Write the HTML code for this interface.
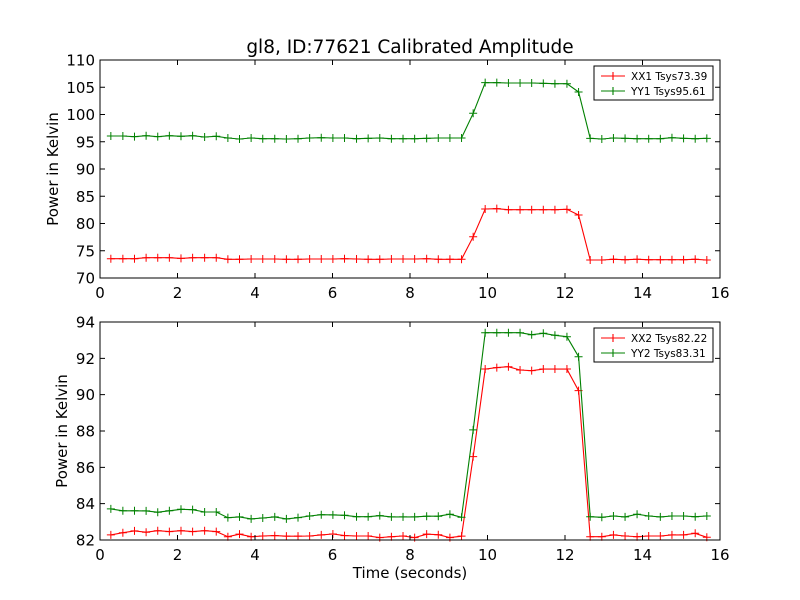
<!DOCTYPE html>
<html><head><meta charset="utf-8"><style>
body{margin:0;background:#fff;}
svg{display:block;font-family:"DejaVu Sans","Liberation Sans",sans-serif;}
</style></head><body>
<svg id="chart" width="800" height="600" viewBox="0 0 800 600" xmlns="http://www.w3.org/2000/svg">
<rect x="0" y="0" width="800" height="600" fill="#fff"/>
<text x="410" y="53" font-size="18.5" text-anchor="middle">gl8, ID:77621 Calibrated Amplitude</text>
<text x="410" y="578" font-size="15" text-anchor="middle">Time (seconds)</text>
</svg>
<script>
const times = [0.28,0.59,0.89,1.19,1.49,1.79,2.09,2.39,2.70,3.00,3.30,3.60,3.90,4.20,4.51,4.81,5.11,5.41,5.71,6.01,6.31,6.62,6.92,7.22,7.52,7.82,8.12,8.43,8.73,9.03,9.33,9.63,9.94,10.24,10.54,10.84,11.14,11.44,11.74,12.05,12.35,12.65,12.95,13.25,13.55,13.86,14.16,14.46,14.76,15.06,15.36,15.66];
const xx1 = [73.54,73.54,73.54,73.72,73.72,73.72,73.6,73.72,73.72,73.72,73.43,73.43,73.49,73.49,73.49,73.43,73.43,73.49,73.49,73.49,73.54,73.49,73.43,73.43,73.49,73.49,73.49,73.54,73.43,73.43,73.43,77.58,82.66,82.72,82.53,82.53,82.53,82.53,82.53,82.6,81.56,73.3,73.3,73.43,73.36,73.43,73.36,73.36,73.36,73.36,73.43,73.3];
const yy1 = [96.06,96.06,95.93,96.11,95.93,96.11,96.0,96.11,95.87,96.0,95.69,95.5,95.69,95.56,95.56,95.5,95.56,95.69,95.74,95.69,95.69,95.56,95.63,95.69,95.56,95.56,95.56,95.63,95.69,95.69,95.69,100.22,105.84,105.84,105.78,105.78,105.78,105.72,105.65,105.65,104.13,95.63,95.5,95.69,95.63,95.56,95.56,95.56,95.74,95.63,95.56,95.63];
const xx2 = [82.28,82.40,82.50,82.43,82.51,82.46,82.51,82.46,82.51,82.46,82.18,82.32,82.18,82.22,82.24,82.21,82.21,82.22,82.28,82.33,82.24,82.22,82.22,82.13,82.18,82.22,82.13,82.32,82.29,82.13,82.21,86.59,91.41,91.49,91.54,91.36,91.32,91.41,91.41,91.41,90.22,82.18,82.18,82.28,82.22,82.18,82.22,82.22,82.28,82.28,82.37,82.15];
const yy2 = [83.71,83.61,83.61,83.60,83.53,83.61,83.69,83.67,83.54,83.54,83.23,83.27,83.16,83.21,83.27,83.16,83.23,83.32,83.39,83.38,83.36,83.28,83.28,83.34,83.27,83.27,83.27,83.31,83.31,83.42,83.25,88.06,93.41,93.41,93.41,93.41,93.30,93.38,93.27,93.19,92.09,83.28,83.25,83.32,83.27,83.42,83.32,83.27,83.32,83.32,83.28,83.32];
const xTicks = [0,2,4,6,8,10,12,14,16];
const yTicks1 = [70,75,80,85,90,95,100,105,110];
const yTicks2 = [82,84,86,88,90,92,94];
const legend1 = ["XX1 Tsys73.39","YY1 Tsys95.61"];
const legend2 = ["XX2 Tsys82.22","YY2 Tsys83.31"];

const NS="http://www.w3.org/2000/svg";
const svg=document.getElementById('chart');
function mk(tag,attrs,parent){const e=document.createElementNS(NS,tag);for(const k in attrs)e.setAttribute(k,attrs[k]);(parent||svg).appendChild(e);return e;}

function panel(id,top,bottom,ymin,ymax,yTicks,series,legend,ylabX){
  const L=100,R=720;
  const g=mk('g',{});
  
  
  const xs=t=>L+(t-0)/(16-0)*(R-L);
  const ys=v=>bottom-(v-ymin)/(ymax-ymin)*(bottom-top);
  // series
  series.forEach((s,si)=>{
    const sg=mk('g',{},g);
    
    
    const pts=s.vals.map((v,i)=>xs(times[i]).toFixed(1)+','+ys(v).toFixed(1)).join(' ');
    const pl=mk('polyline',{points:pts,fill:'none',stroke:s.color,'stroke-width':1.1},sg);
    
    
    s.vals.forEach((v,i)=>{
      const x=xs(times[i]),y=ys(v);
      const m=mk('path',{d:`M${x-4},${y}H${x+4}M${x},${y-4}V${y+4}`,stroke:s.color,'stroke-width':1},sg);
      
      
    });
  });
  // frame
  const fr=mk('rect',{x:L,y:top,width:R-L,height:bottom-top,fill:'none',stroke:'#000','stroke-width':1},g);
  
  
  // x ticks
  xTicks.forEach(t=>{
    const x=xs(t);
    mk('path',{d:`M${x},${bottom}v-5M${x},${top}v5`,stroke:'#000'},g);
    const tx=mk('text',{x:x,y:bottom+20,'font-size':15,'text-anchor':'middle'},g);
    
    
    tx.textContent=t;
  });
  yTicks.forEach(v=>{
    const y=ys(v);
    mk('path',{d:`M${L},${y}h5M${R},${y}h-5`,stroke:'#000'},g);
    const tx=mk('text',{x:L-5,y:y+5.5,'font-size':15,'text-anchor':'end'},g);
    
    
    tx.textContent=v;
  });
  const yl=mk('text',{x:ylabX,y:(top+bottom)/2,'font-size':15,'text-anchor':'middle',transform:`rotate(-90 ${ylabX} ${(top+bottom)/2})`},g);
  
  
  yl.textContent='Power in Kelvin';
  // legend
  const lx=R-126,ly=top+6,lw=119,lh=34;
  const lg=mk('g',{},g);
  
  
  mk('rect',{x:lx,y:ly,width:lw,height:lh,fill:'#fff',stroke:'#000','stroke-width':1},lg);
  series.forEach((s,si)=>{
    const yy=ly+10+si*15;
    const e=mk('g',{},lg);
    
    
    mk('path',{d:`M${lx+7},${yy}h24M${lx+19},${yy-4}v8`,stroke:s.color,'stroke-width':1.1},e);
    const t=mk('text',{x:lx+37,y:yy+4,'font-size':10.5},e);
    t.textContent=legend[si];
  });
}
panel('top',60,278,70,110,yTicks1,[{name:'xx1',vals:xx1,color:'#ff0000'},{name:'yy1',vals:yy1,color:'#008000'}],legend1,58);
panel('bottom',322,540,82,94,yTicks2,[{name:'xx2',vals:xx2,color:'#ff0000'},{name:'yy2',vals:yy2,color:'#008000'}],legend2,67);
</script>
</body></html>
